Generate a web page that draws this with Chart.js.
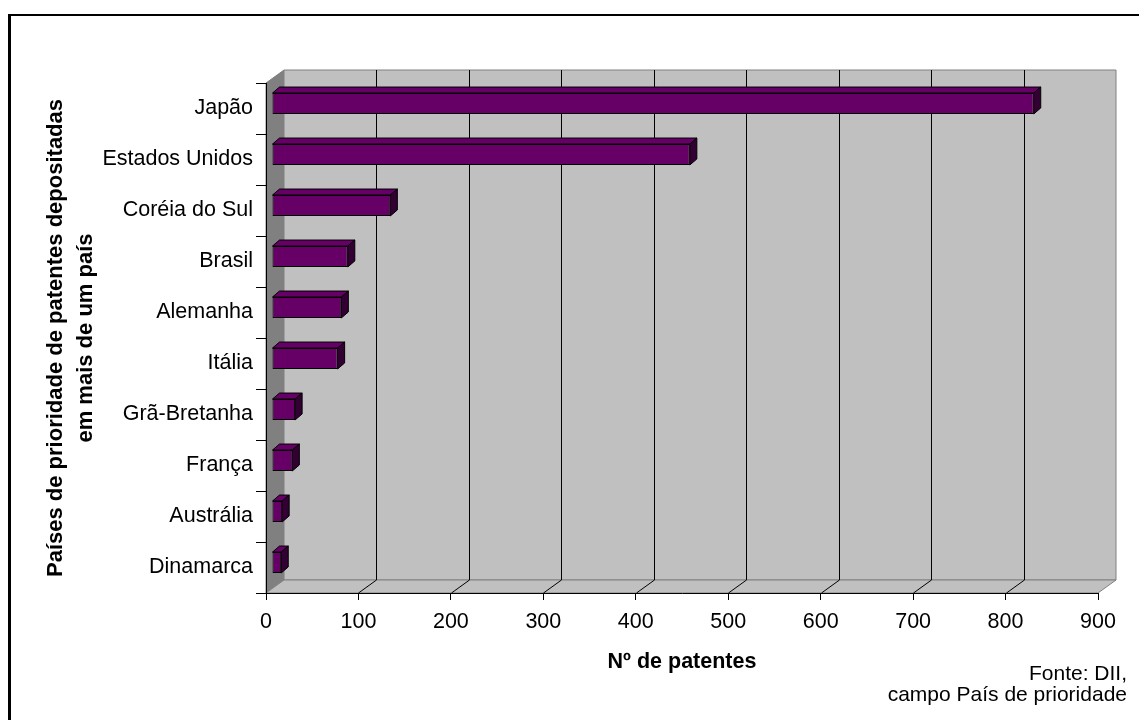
<!DOCTYPE html>
<html>
<head>
<meta charset="utf-8">
<script src="https://cdn.jsdelivr.net/npm/chart.js@4.4.0/dist/chart.umd.min.js"></script>
<style>
  body { margin: 0; background: #fff; }
  #wrap { position: relative; width: 1139px; height: 720px; overflow: hidden; }
  #fonte {
    position: absolute; right: 12px; top: 662px;
    font: 21px "Liberation Sans", Arial, sans-serif; line-height: 21px;
    text-align: right; color: #000;
  }
</style>
</head>
<body>
<div id="wrap">
  <canvas id="chart" width="1139" height="720"></canvas>
  <div id="fonte">Fonte: DII,<br>campo País de prioridade</div>
</div>
<script>
const countries = ["Japão", "Estados Unidos", "Coréia do Sul", "Brasil", "Alemanha",
  "Itália", "Grã-Bretanha", "França", "Austrália", "Dinamarca"];
const patents = [824, 452, 128, 82, 75, 71, 25, 22, 11, 10];
const xTickValues = [0, 100, 200, 300, 400, 500, 600, 700, 800, 900];

// 3D look: depth of the walls and of the bars (px)
const WALL = { x: 18, y: -13 };
const BAR_SHIFT = { x: 6, y: -5 };
const BAR_DEPTH = { x: 7, y: -6 };

function poly(ctx, pts, fill, stroke) {
  ctx.beginPath();
  ctx.moveTo(pts[0][0], pts[0][1]);
  for (let i = 1; i < pts.length; i++) ctx.lineTo(pts[i][0], pts[i][1]);
  ctx.closePath();
  if (fill) { ctx.fillStyle = fill; ctx.fill(); }
  if (stroke) { ctx.strokeStyle = stroke; ctx.lineWidth = 1; ctx.stroke(); }
}

const box3d = {
  id: "box3d",
  beforeDraw(chart) {
    const { ctx, chartArea: a, scales: { x } } = chart;
    const L = a.left, R = a.right, T = a.top, B = a.bottom;
    const dx = WALL.x, dy = WALL.y;
    ctx.save();
    // outer frame
    ctx.fillStyle = "#000";
    ctx.fillRect(8, 14, 3, chart.height);
    ctx.fillRect(8, 14, chart.width, 2);

    // side wall, back wall, floor
    poly(ctx, [[L, B], [L, T], [L + dx, T + dy], [L + dx, B + dy]], "#808080", "#808080");
    poly(ctx, [[L + dx, T + dy], [R + dx, T + dy], [R + dx, B + dy], [L + dx, B + dy]], "#c0c0c0", "#808080");
    poly(ctx, [[L, B], [R, B], [R + dx, B + dy], [L + dx, B + dy]], "#c0c0c0", "#808080");

    // grid on back wall and floor
    ctx.strokeStyle = "#000";
    ctx.lineWidth = 1;
    x.ticks.forEach(t => {
      if (t.value <= 0 || t.value >= 900) return;
      const px = Math.round(x.getPixelForValue(t.value)) + 0.5;
      ctx.beginPath();
      ctx.moveTo(px + dx, T + dy);
      ctx.lineTo(px + dx, B + dy);
      ctx.moveTo(px, B);
      ctx.lineTo(px + dx, B + dy);
      ctx.stroke();
    });
    ctx.restore();
  },
  beforeDatasetsDraw(chart) {
    chart.ctx.save();
    chart.ctx.translate(BAR_SHIFT.x, BAR_SHIFT.y);
  },
  afterDatasetsDraw(chart) {
    const ctx = chart.ctx;
    const bx = BAR_DEPTH.x, by = BAR_DEPTH.y;
    chart.getDatasetMeta(0).data.forEach(bar => {
      const { x, y, base, height } = bar.getProps(["x", "y", "base", "height"], true);
      const top = y - height / 2, bot = y + height / 2;
      poly(ctx, [[base, top], [base + bx, top + by], [x + bx, top + by], [x, top]], "#660066", "#000");
      poly(ctx, [[x, top], [x + bx, top + by], [x + bx, bot + by], [x, bot]], "#330033", "#000");
    });
    ctx.restore();
  }
};

Chart.defaults.font.family = '"Liberation Sans", Arial, sans-serif';
Chart.defaults.color = "#000";

new Chart(document.getElementById("chart"), {
  type: "bar",
  data: {
    labels: countries,
    datasets: [{
      data: patents,
      backgroundColor: "#660066",
      borderColor: "#000",
      borderWidth: 1,
      borderSkipped: false,
      categoryPercentage: 1,
      barPercentage: 0.41
    }]
  },
  options: {
    indexAxis: "y",
    responsive: false,
    animation: false,
    layout: { padding: { top: 83, right: 41, left: 0, bottom: 0 } },
    plugins: { legend: { display: false }, tooltip: { enabled: false } },
    scales: {
      x: {
        min: 0,
        max: 900,
        afterBuildTicks: scale => { scale.ticks = xTickValues.map(v => ({ value: v })); },
        ticks: { color: "#000", font: { size: 21.5 }, padding: 9 },
        grid: { drawOnChartArea: false, color: "#000", tickLength: 7 },
        border: { color: "#000" },
        title: {
          display: true,
          text: "Nº de patentes",
          color: "#000",
          font: { size: 21.5, weight: "bold" },
          padding: { bottom: 45 }
        },
        afterFit: scale => { scale.height = 127; }
      },
      y: {
        ticks: { color: "#000", font: { size: 21.5 }, padding: 3 },
        grid: { drawOnChartArea: false, color: "#000", tickLength: 10, offset: true },
        border: { color: "#000" },
        title: {
          display: true,
          text: ["Países de prioridade de patentes depositadas", "em mais de um país"],
          color: "#000",
          font: { size: 22, weight: "bold", lineHeight: 1.35 },
          padding: { top: 41 }
        },
        afterFit: scale => { scale.width = 266; }
      }
    }
  },
  plugins: [box3d]
});
</script>
</body>
</html>
